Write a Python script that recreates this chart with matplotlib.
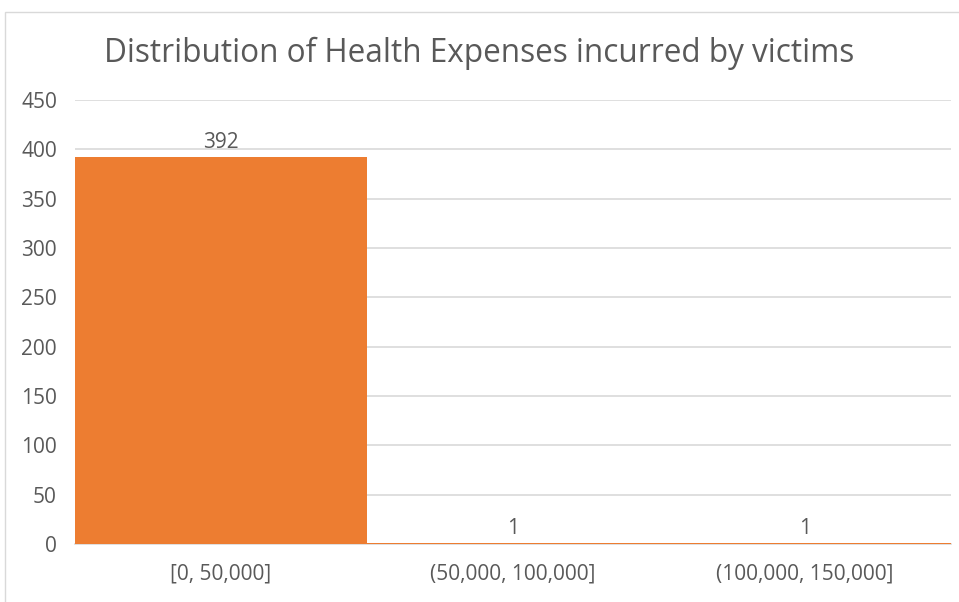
import matplotlib
matplotlib.use("Agg")
import matplotlib.pyplot as plt
from matplotlib.patches import Rectangle
from matplotlib import font_manager

categories = ["[0, 50,000]", "(50,000, 100,000]", "(100,000, 150,000]"]
counts = [392, 1, 1]
yticks = [0, 50, 100, 150, 200, 250, 300, 350, 400, 450]

names = {f.name for f in font_manager.fontManager.ttflist}
family = "Liberation Sans Narrow" if "Liberation Sans Narrow" in names else "Open Sans"
plt.rcParams["font.family"] = [family, "DejaVu Sans"]

text_color = "#595959"
grid_color = "#d9d9d9"
bar_color = "#ED7D31"

fig = plt.figure(figsize=(9.59, 6.02), dpi=100)
fig.patches.append(Rectangle((5 / 959, -0.01), 1.0, 1 - 12 / 602 + 0.01,
                             transform=fig.transFigure, fill=False,
                             edgecolor="#d9d9d9", linewidth=1))

ax = fig.add_axes([75 / 959, 1 - 544 / 602, 876 / 959, 444 / 602])
x = list(range(len(categories)))
ax.bar(x, counts, width=1.0, color=bar_color, zorder=3)
ax.set_xlim(-0.5, len(categories) - 0.5)
ax.set_ylim(0, 450)
ax.set_yticks(yticks)
ax.set_yticklabels([str(t) for t in yticks])
ax.set_xticks(x)
ax.set_xticklabels(categories)
ax.tick_params(axis="both", length=0, colors=text_color, labelsize=15)
ax.tick_params(axis="x", pad=14)
ax.tick_params(axis="y", pad=13)
ax.grid(axis="y", color=grid_color, linewidth=1.2, zorder=0)
for s in ["top", "right", "left"]:
    ax.spines[s].set_visible(False)
ax.spines["bottom"].set_color(grid_color)
ax.spines["bottom"].set_linewidth(1.2)

for xi, v in zip(x, counts):
    ax.text(xi, v + 4, str(v), ha="center", va="bottom",
            fontsize=15, color=text_color)

fig.text(0.5, 1 - 53 / 602, "Distribution of Health Expenses incurred by victims",
         ha="center", va="center", fontsize=22.7, color=text_color)

fig.savefig("out.png", dpi=100)
